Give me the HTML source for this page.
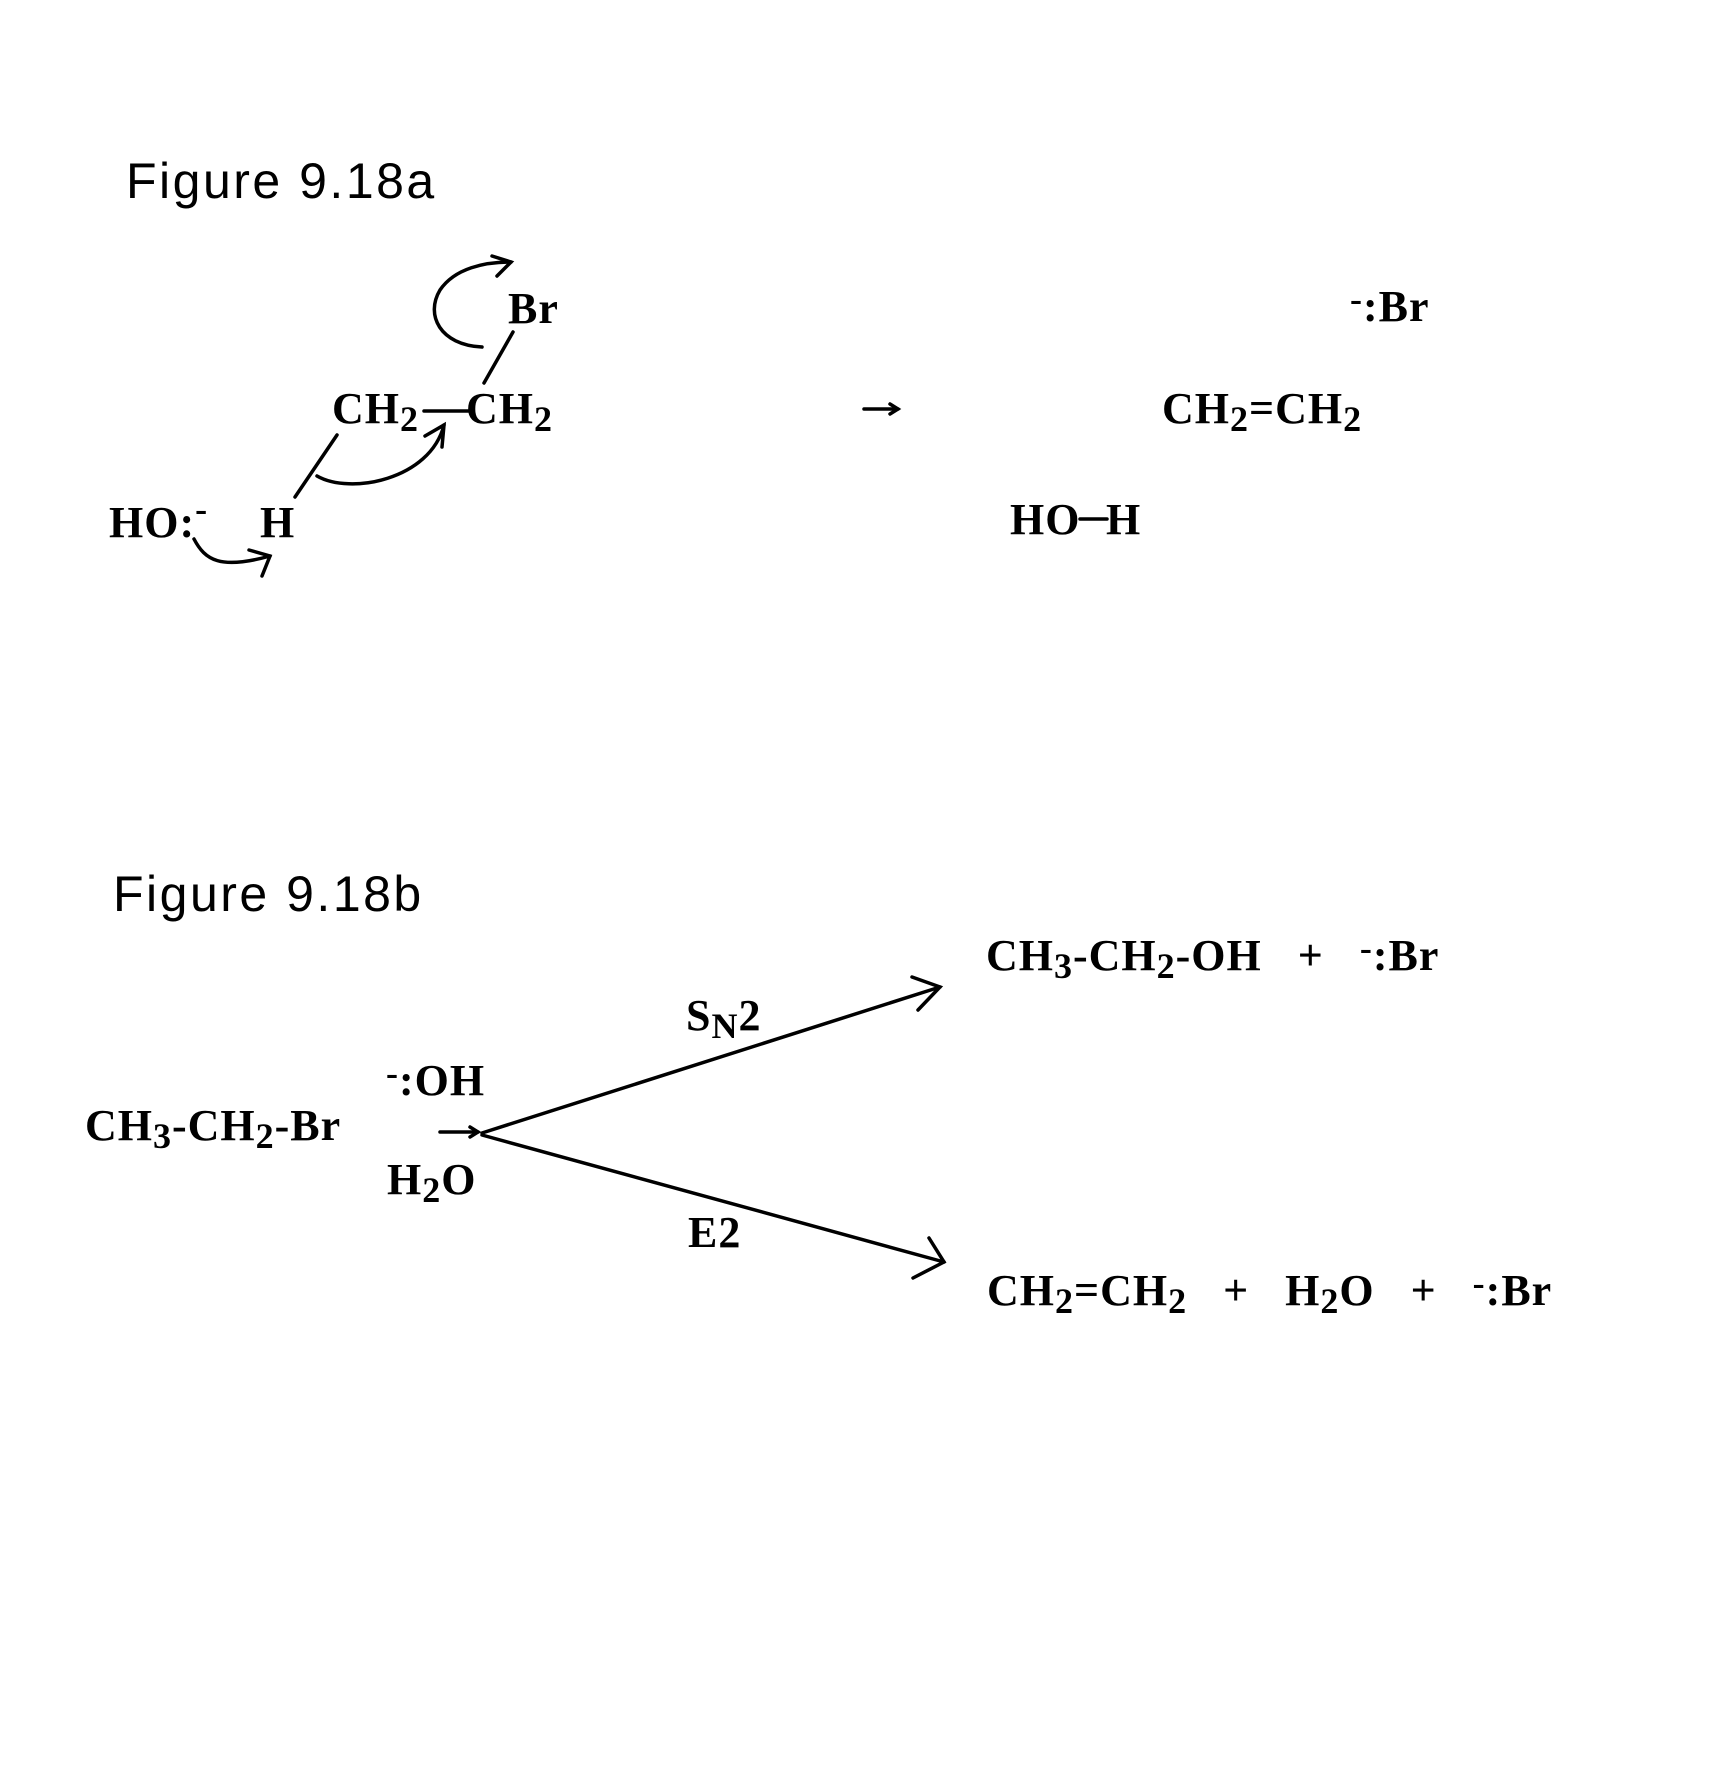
<!DOCTYPE html>
<html><head><meta charset="utf-8"><style>
html,body{margin:0;padding:0;background:#fff;}
svg{display:block;}
.f{font-family:"Liberation Sans",sans-serif;font-size:50px;fill:#000;letter-spacing:2.5px;}
.c{font-family:"Liberation Serif",serif;font-weight:bold;font-size:44px;fill:#000;letter-spacing:1px;}
.s{font-size:36px;}
</style></head><body>
<svg width="1722" height="1776" viewBox="0 0 1722 1776" xmlns="http://www.w3.org/2000/svg">
<g fill="none" stroke="#000" stroke-width="3.5" stroke-linecap="round">
<line x1="513" y1="332" x2="484" y2="383"/>
<line x1="337" y1="435" x2="295" y2="497"/>
<line x1="424" y1="411" x2="468" y2="411"/>
<path d="M482 347 C440 345 425 315 440 290 C455 268 485 262 511 262"/>
<path d="M492 256 L511 262 L497 276"/>
<path d="M317 476 C350 495 430 480 444 425"/>
<path d="M425 436 L444 425 L442 447"/>
<path d="M194 539 C205 560 220 570 270 556"/>
<path d="M249 550 L270 556 L262 576"/>
<line x1="864" y1="409" x2="898" y2="409"/>
<path d="M890 404 L898 409 L890 414"/>
<line x1="1080" y1="519" x2="1107" y2="519"/>
<line x1="440" y1="1132" x2="478" y2="1132"/>
<path d="M470 1127 L478 1132 L470 1137"/>
<line x1="482" y1="1133" x2="940" y2="987"/>
<path d="M912 977 L940 987 L918 1010"/>
<line x1="482" y1="1135" x2="944" y2="1262"/>
<path d="M929 1238 L944 1262 L913 1278"/>
</g>
<text class="f" x="126" y="198">Figure 9.18a</text>
<text class="c" x="508" y="323">Br</text>
<text class="c" x="332" y="423">CH<tspan class="s" dy="8">2</tspan></text>
<text class="c" x="466" y="423">CH<tspan class="s" dy="8">2</tspan></text>
<text class="c" x="109" y="537">HO:<tspan class="s" dy="-16">-</tspan></text>
<text class="c" x="260" y="537">H</text>
<text class="c" x="1350" y="321"><tspan class="s" dy="-10">-</tspan><tspan dy="10">:Br</tspan></text>
<text class="c" x="1162" y="423">CH<tspan class="s" dy="8">2</tspan><tspan dy="-8">=CH</tspan><tspan class="s" dy="8">2</tspan></text>
<text class="c" x="1010" y="534">HO</text>
<text class="c" x="1106" y="534">H</text>
<text class="f" x="113" y="911">Figure 9.18b</text>
<text class="c" x="986" y="970" xml:space="preserve">CH<tspan class="s" dy="8">3</tspan><tspan dy="-8">-CH</tspan><tspan class="s" dy="8">2</tspan><tspan dy="-8">-OH   +   </tspan><tspan class="s" dy="-10">-</tspan><tspan dy="10">:Br</tspan></text>
<text class="c" x="686" y="1030">S<tspan class="s" dy="8">N</tspan><tspan dy="-8">2</tspan></text>
<text class="c" x="386" y="1095"><tspan class="s" dy="-10">-</tspan><tspan dy="10">:OH</tspan></text>
<text class="c" x="85" y="1140">CH<tspan class="s" dy="8">3</tspan><tspan dy="-8">-CH</tspan><tspan class="s" dy="8">2</tspan><tspan dy="-8">-Br</tspan></text>
<text class="c" x="387" y="1194">H<tspan class="s" dy="8">2</tspan><tspan dy="-8">O</tspan></text>
<text class="c" x="688" y="1247">E2</text>
<text class="c" x="987" y="1305" xml:space="preserve">CH<tspan class="s" dy="8">2</tspan><tspan dy="-8">=CH</tspan><tspan class="s" dy="8">2</tspan><tspan dy="-8">   +   H</tspan><tspan class="s" dy="8">2</tspan><tspan dy="-8">O   +   </tspan><tspan class="s" dy="-10">-</tspan><tspan dy="10">:Br</tspan></text>
</svg>
</body></html>
